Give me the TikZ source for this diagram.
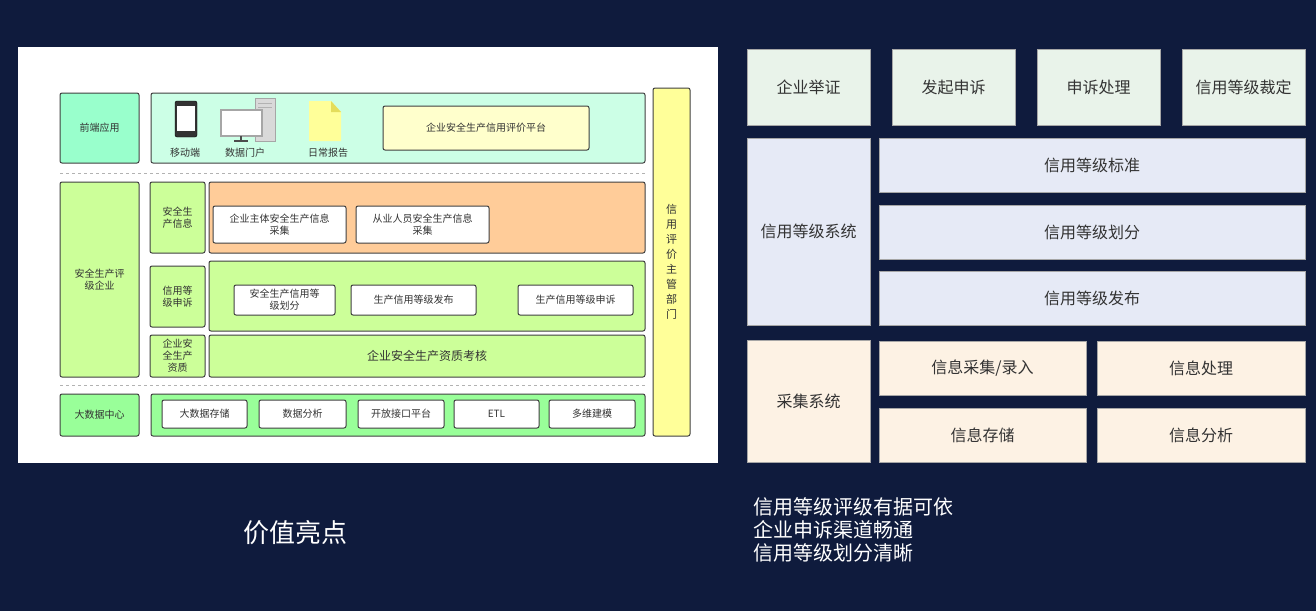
\documentclass[tikz,border=0pt]{standalone}
\usepackage{fontspec}
\setmainfont{Noto Sans CJK SC}
\definecolor{bg}{HTML}{0F1B3D}
\definecolor{fa}{HTML}{99FFCC}\definecolor{fb}{HTML}{CCFFE6}
\definecolor{fy}{HTML}{FFFFCC}\definecolor{fg}{HTML}{CCFF99}
\definecolor{fo}{HTML}{FFCC99}\definecolor{fd}{HTML}{99FF99}
\definecolor{fv}{HTML}{FFFF99}
\definecolor{ra}{HTML}{E9F3EA}\definecolor{rb}{HTML}{E6EAF6}\definecolor{rc}{HTML}{FDF2E4}
\definecolor{tx}{HTML}{333333}
\tikzset{lb/.style={draw=black!75,line width=1pt,rounded corners=2pt,inner sep=0pt,align=center,font=\fontsize{10}{12}\selectfont,text=tx},
 rb/.style={draw=gray!70,line width=0.8pt,inner sep=0pt,align=center,font=\fontsize{16}{19}\selectfont,text=tx},
 dl/.style={dashed,gray!60,line width=1pt}}
\newcommand\mybox[7]{\node[#6,minimum width={#4-#2},minimum height={#5-#3}] (#1) at ({(#2+#4)/2},{(#3+#5)/2}) {#7};}
\begin{document}
\begin{tikzpicture}[x=1pt,y=-1pt]
\fill[bg] (0,0) rectangle (1316,611);
\fill[white] (18,47) rectangle (718,463);
% left
\mybox{fe}{60}{93}{139}{163}{lb,fill=fa}{前端应用}
\mybox{fm}{151}{93}{645}{163}{lb,fill=fb}{}
\mybox{pf}{383}{106}{589}{150}{lb,fill=fy}{企业安全生产信用评价平台}
% icons
\draw[fill=black!80,rounded corners=2pt] (175,101) rectangle (197,137);
\fill[white] (177,106) rectangle (195,131);
\draw[fill=gray!30,draw=gray!70] (255,98) rectangle (275,141);
\draw[gray!60] (258,103)--(272,103) (258,107)--(272,107);
\draw[fill=white,draw=gray!70,line width=1.2pt] (221,110) rectangle (262,136);
\draw[black!70,line width=1.5pt] (241,136)--(241,141) (234,141)--(248,141);
\fill[fv] (309,101)--(331,101)--(341,112)--(341,141)--(309,141)--cycle;
\fill[yellow!60!olive!60] (331,101)--(341,112)--(331,112)--cycle;
\node[font=\fontsize{10}{12}\selectfont,text=tx] (m1) at (185,153) {移动端};
\node[font=\fontsize{10}{12}\selectfont,text=tx] (m2) at (245,153) {数据门户};
\node[font=\fontsize{10}{12}\selectfont,text=tx] (m3) at (328,153) {日常报告};
\coordinate (d1a) at (60,173); \coordinate (d1b) at (645,173);
\draw[dl] (d1a)--(d1b);
\mybox{qy}{60}{182}{139}{377}{lb,fill=fg}{安全生产评\\级企业}
\mybox{s1}{150}{182}{205}{253}{lb,fill=fg}{安全生\\产信息}
\mybox{o1}{209}{182}{645}{253}{lb,fill=fo}{}
\mybox{b1}{213}{206}{346}{243}{lb,fill=white}{企业主体安全生产信息\\采集}
\mybox{b2}{356}{206}{489}{243}{lb,fill=white}{从业人员安全生产信息\\采集}
\mybox{s2}{150}{266}{205}{327}{lb,fill=fg}{信用等\\级申诉}
\mybox{o2}{209}{261}{645}{331}{lb,fill=fg}{}
\mybox{b3}{234}{285}{335}{315}{lb,fill=white}{安全生产信用等\\级划分}
\mybox{b4}{351}{285}{476}{315}{lb,fill=white}{生产信用等级发布}
\mybox{b5}{518}{285}{633}{315}{lb,fill=white}{生产信用等级申诉}
\mybox{s3}{150}{335}{205}{377}{lb,fill=fg}{企业安\\全生产\\资质}
\mybox{o3}{209}{335}{645}{377}{lb,fill=fg,font=\fontsize{12}{14}\selectfont}{企业安全生产资质考核}
\coordinate (d2a) at (60,385); \coordinate (d2b) at (645,385);
\draw[dl] (d2a)--(d2b);
\mybox{dc}{60}{394}{139}{436}{lb,fill=fd}{大数据中心}
\mybox{dm}{151}{394}{645}{436}{lb,fill=fd}{}
\mybox{c1}{162}{400}{247}{428}{lb,fill=white}{大数据存储}
\mybox{c2}{259}{400}{346}{428}{lb,fill=white}{数据分析}
\mybox{c3}{358}{400}{444}{428}{lb,fill=white}{开放接口平台}
\mybox{c4}{454}{400}{539}{428}{lb,fill=white}{ETL}
\mybox{c5}{549}{400}{635}{428}{lb,fill=white}{多维建模}
\mybox{vt}{653}{88}{690}{436}{lb,fill=fv,font=\fontsize{11}{15}\selectfont}{信\\用\\评\\价\\主\\管\\部\\门}
% right
\mybox{r1}{747}{49}{870}{125}{rb,fill=ra}{企业举证}
\mybox{r2}{892}{49}{1015}{125}{rb,fill=ra}{发起申诉}
\mybox{r3}{1037}{49}{1160}{125}{rb,fill=ra}{申诉处理}
\mybox{r4}{1182}{49}{1305}{125}{rb,fill=ra}{信用等级裁定}
\mybox{r5}{747}{138}{870}{325}{rb,fill=rb}{信用等级系统}
\mybox{r6}{879}{138}{1305}{192}{rb,fill=rb}{信用等级标准}
\mybox{r7}{879}{205}{1305}{259}{rb,fill=rb}{信用等级划分}
\mybox{r8}{879}{271}{1305}{325}{rb,fill=rb}{信用等级发布}
\mybox{r9}{747}{340}{870}{462}{rb,fill=rc}{采集系统}
\mybox{ra}{879}{341}{1086}{395}{rb,fill=rc}{信息采集/录入}
\mybox{rbx}{1097}{341}{1305}{395}{rb,fill=rc}{信息处理}
\mybox{rc}{879}{408}{1086}{462}{rb,fill=rc}{信息存储}
\mybox{rd}{1097}{408}{1305}{462}{rb,fill=rc}{信息分析}
\node[anchor=north west,align=left,text=white,font=\fontsize{20}{23}\selectfont,inner sep=0pt] (tt) at (753,497) {信用等级评级有据可依\\企业申诉渠道畅通\\信用等级划分清晰};
\node[text=white,font=\fontsize{26}{30}\selectfont] (hl) at (295,533) {价值亮点};
\end{tikzpicture}
\end{document}
